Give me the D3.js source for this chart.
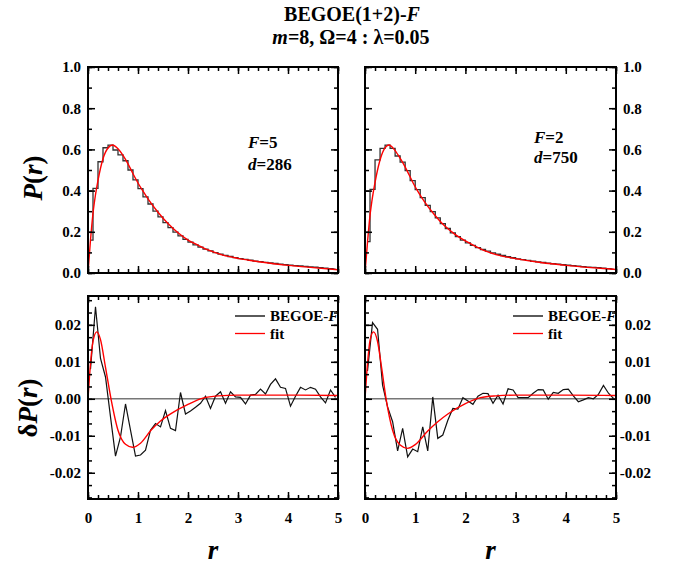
<!DOCTYPE html>
<html>
<head>
<meta charset="utf-8">
<script src="https://cdn.jsdelivr.net/npm/d3@7"></script>
<style>
  body { margin: 0; background: #fff; }
  text { font-family: "Liberation Serif", "Times New Roman", serif; font-weight: bold; }
  .tick text { font-size: 15px; font-family: "Liberation Serif", "Times New Roman", serif; }
</style>
</head>
<body>
<script>
// bin centres of the r histogram (width 0.1)
const rBins = [0.05,0.15,0.25,0.35,0.45,0.55,0.65,0.75,0.85,0.95,
               1.05,1.15,1.25,1.35,1.45,1.55,1.65,1.75,1.85,1.95,
               2.05,2.15,2.25,2.35,2.45,2.55,2.65,2.75,2.85,2.95,
               3.05,3.15,3.25,3.35,3.45,3.55,3.65,3.75,3.85,3.95,
               4.05,4.15,4.25,4.35,4.45,4.55,4.65,4.75,4.85,4.95];

// P(r) histograms, F=5 (left) and F=2 (right)
const histF5 = [0.160,0.411,0.540,0.608,0.621,0.597,0.573,0.545,0.500,0.452,
                0.410,0.370,0.335,0.300,0.272,0.245,0.220,0.198,0.180,0.163,
                0.150,0.137,0.126,0.116,0.107,0.099,0.092,0.086,0.080,0.075,
                0.070,0.066,0.062,0.058,0.055,0.052,0.049,0.046,0.043,0.041,
                0.038,0.036,0.034,0.032,0.030,0.028,0.026,0.023,0.021,0.019];
const histF2 = [0.152,0.406,0.549,0.605,0.621,0.605,0.568,0.538,0.497,0.448,
                0.405,0.366,0.328,0.298,0.268,0.240,0.216,0.195,0.177,0.160,
                0.146,0.134,0.123,0.114,0.106,0.098,0.091,0.085,0.079,0.074,
                0.069,0.065,0.061,0.057,0.054,0.051,0.048,0.045,0.043,0.040,
                0.038,0.036,0.033,0.031,0.029,0.027,0.026,0.024,0.021,0.019];

// red fit curves of P(r)
const fitRF5 = [0,0.05,0.1,0.15,0.2,0.3,0.4,0.49,0.6,0.7,0.8,0.9,1.0,1.1,1.2,1.4,1.6,1.8,2.0,2.2,2.4,2.7,3.0,3.5,4.0,4.5,5.0];
const fitPF5 = [0,0.16,0.29,0.38,0.45,0.555,0.607,0.621,0.603,0.571,0.53,0.482,0.437,0.397,0.360,0.295,0.240,0.195,0.160,0.135,0.112,0.087,0.071,0.052,0.037,0.026,0.016];
const fitRF2 = [0,0.05,0.1,0.15,0.2,0.29,0.38,0.48,0.58,0.68,0.78,0.88,0.98,1.08,1.18,1.38,1.58,1.78,1.98,2.18,2.38,2.65,3.0,3.5,4.0,4.5,5.0];
const fitPF2 = [0,0.15,0.28,0.37,0.44,0.54,0.60,0.621,0.60,0.565,0.524,0.476,0.427,0.385,0.348,0.284,0.230,0.190,0.158,0.132,0.109,0.087,0.070,0.051,0.037,0.026,0.017];

// deltaP(r) = BEGOE-F minus reference
const deltaF5 = [0.0080,0.0249,0.0109,0.0059,-0.0049,-0.0155,-0.0103,-0.0014,-0.0085,-0.0155,
                 -0.0152,-0.0139,-0.0085,-0.0067,-0.0076,-0.0032,-0.0080,-0.0086,0.0017,-0.0041,
                 -0.0033,-0.0023,-0.0012,0.0007,-0.0026,0.0007,0.0019,-0.0012,0.0019,0.0005,
                 0.0004,-0.0014,0.0010,0.0012,0.0026,0.0013,0.0039,0.0054,0.0031,0.0028,
                 -0.0020,0.0007,0.0031,0.0024,0.0031,0.0026,0.0005,-0.0011,0.0024,0.0004];
const deltaF2 = [0.0075,0.0206,0.0188,0.0037,-0.0022,-0.0062,-0.0141,-0.0080,-0.0157,-0.0136,
                 -0.0143,-0.0076,-0.0141,0.0005,-0.0107,-0.0098,-0.0058,-0.0026,-0.0028,0.0003,
                 -0.0006,-0.0015,0.0007,0.0015,0.0014,-0.0012,0.0010,-0.0014,0.0027,0.0024,
                 0.0003,0.0003,0.0003,0.0015,0.0025,0.0024,-0.0001,0.0017,0.0015,0.0025,
                 0.0026,0.0008,-0.0008,-0.0003,0.0003,0.0000,0.0012,0.0036,0.0015,0.0001];

// red fit of deltaP(r)
const dFitRF5 = [0,0.05,0.1,0.175,0.25,0.35,0.46,0.6,0.75,0.89,1.05,1.26,1.45,1.66,2.0,2.3,2.6,3.0,4.0,5.0];
const dFitF5  = [0,0.0095,0.0155,0.0181,0.016,0.0085,0,-0.0085,-0.0123,-0.0131,-0.012,-0.0085,-0.006,-0.004,-0.0015,0.0002,0.0008,0.001,0.001,0.0009];
const dFitRF2 = [0,0.05,0.1,0.17,0.25,0.33,0.42,0.55,0.7,0.85,1.0,1.25,1.45,1.65,2.0,2.3,2.6,3.0,4.0,5.0];
const dFitF2  = [0,0.0095,0.0158,0.0181,0.0155,0.0085,0,-0.0085,-0.0125,-0.0134,-0.0124,-0.0087,-0.0062,-0.0041,-0.0013,0.0003,0.0008,0.001,0.001,0.0009];

// tick values
const xTicks = [0,1,2,3,4,5];
const pTicks = [0,0.2,0.4,0.6,0.8,1.0];
const dTicks = [-0.02,-0.01,0,0.01,0.02];

const svg = d3.select("body").append("svg").attr("width", 678).attr("height", 568);

// title
const title = svg.append("text").attr("x", 352).attr("y", 21).attr("text-anchor", "middle").style("font-size", "20px");
title.append("tspan").text("BEGOE(1+2)-");
title.append("tspan").attr("font-style", "italic").text("F");
const sub = svg.append("text").attr("x", 351).attr("y", 44).attr("text-anchor", "middle").style("font-size", "20px");
sub.append("tspan").attr("font-style", "italic").text("m");
sub.append("tspan").text("=8, Ω=4 : λ=0.05");

const cols = [{x0: 88, x1: 338}, {x0: 365, x1: 616}];
const rows = [{y0: 67, y1: 273}, {y0: 296, y1: 499}];

const xMinor = d3.range(0, 5.001, 0.2);
const pMinor = d3.range(0, 1.001, 0.1);
const dMinor = d3.range(-8, 9).map(k => k * 0.01 / 3);

// draws the four inward tick sets; labels only where asked
function drawAxes(g, x, y, o) {
  const w = x.range()[1], h = y.range()[0];
  const add = (axis, tf, fmt) => {
    const a = g.append("g").attr("transform", tf).call(axis.tickFormat(fmt || ""));
    a.select(".domain").remove();
    a.attr("font-size", null).attr("font-family", null);
    a.selectAll("line").attr("stroke-width", 1.5);
    return a;
  };
  add(d3.axisBottom(x).tickValues(xMinor).tickSize(-4), `translate(0,${h})`);
  add(d3.axisTop(x).tickValues(xMinor).tickSize(-4), "translate(0,0)");
  add(d3.axisLeft(y).tickValues(o.yMinor).tickSize(-4), "translate(0,0)");
  add(d3.axisRight(y).tickValues(o.yMinor).tickSize(-4), `translate(${w},0)`);

  add(d3.axisBottom(x).tickValues(xTicks).tickSize(-7).tickPadding(13), `translate(0,${h})`,
      o.xLabels ? d3.format("d") : null);
  add(d3.axisTop(x).tickValues(xTicks).tickSize(-7), "translate(0,0)");
  add(d3.axisLeft(y).tickValues(o.yMajor).tickSize(-7).tickPadding(7), "translate(0,0)",
      o.ySide === "left" ? o.yFmt : null);
  const r = add(d3.axisRight(y).tickValues(o.yMajor).tickSize(-7).tickPadding(7), `translate(${w},0)`,
      o.ySide === "right" ? o.yFmt : null);
  if (o.ySide === "right" && o.alignEnd) r.selectAll("text").attr("text-anchor", "end").attr("x", 35);

  g.append("rect").attr("width", w).attr("height", h)
    .attr("fill", "none").attr("stroke", "#000").attr("stroke-width", 2);
}

function topPanel(c, hist, fitR, fitP, fLabel, dLabel, lab) {
  const g = svg.append("g").attr("transform", `translate(${c.x0},${rows[0].y0})`);
  const x = d3.scaleLinear().domain([0, 5]).range([0, c.x1 - c.x0]);
  const y = d3.scaleLinear().domain([0, 1]).range([rows[0].y1 - rows[0].y0, 0]);

  g.append("path").datum(rBins.map((r, i) => ({r, v: hist[i]})))
    .attr("fill", "none").attr("stroke", "#333").attr("stroke-width", 1.3)
    .attr("d", d3.line().x(d => x(d.r)).y(d => y(d.v)).curve(d3.curveStep));
  g.append("path").datum(fitR.map((r, i) => ({r, v: fitP[i]})))
    .attr("fill", "none").attr("stroke", "#f00").attr("stroke-width", 1.4)
    .attr("d", d3.line().x(d => x(d.r)).y(d => y(d.v)).curve(d3.curveMonotoneX));

  const t1 = g.append("text").attr("x", lab.x).attr("y", lab.y1).style("font-size", "17px");
  t1.append("tspan").attr("font-style", "italic").text("F");
  t1.append("tspan").text("=" + fLabel);
  const t2 = g.append("text").attr("x", lab.x).attr("y", lab.y2).style("font-size", "17px");
  t2.append("tspan").attr("font-style", "italic").text("d");
  t2.append("tspan").text("=" + dLabel);

  drawAxes(g, x, y, {yMajor: pTicks, yMinor: pMinor, yFmt: d => d.toFixed(1),
    ySide: c.x0 < 200 ? "left" : "right", xLabels: false});
}

function bottomPanel(c, delta, dR, dFit) {
  const g = svg.append("g").attr("transform", `translate(${c.x0},${rows[1].y0})`);
  const w = c.x1 - c.x0, h = rows[1].y1 - rows[1].y0;
  const x = d3.scaleLinear().domain([0, 5]).range([0, w]);
  const y = d3.scaleLinear().domain([-0.0271, 0.0278]).range([h, 0]);

  g.append("line").attr("x1", 0).attr("x2", w).attr("y1", y(0)).attr("y2", y(0))
    .attr("stroke", "#777").attr("stroke-width", 1.5);
  g.append("path").datum(rBins.map((r, i) => ({r, v: delta[i]})))
    .attr("fill", "none").attr("stroke", "#111").attr("stroke-width", 1.2)
    .attr("d", d3.line().x(d => x(d.r)).y(d => y(d.v)));
  g.append("path").datum(dR.map((r, i) => ({r, v: dFit[i]})))
    .attr("fill", "none").attr("stroke", "#f00").attr("stroke-width", 1.4)
    .attr("d", d3.line().x(d => x(d.r)).y(d => y(d.v)).curve(d3.curveMonotoneX));

  // legend
  const lg = g.append("g").attr("transform", `translate(${w - 103},20)`);
  [["#000", "BEGOE-", "F"], ["#f00", "fit", ""]].forEach((it, i) => {
    lg.append("line").attr("x1", 0).attr("x2", 30).attr("y1", i * 17.5).attr("y2", i * 17.5)
      .attr("stroke", it[0]).attr("stroke-width", 1.3);
    const t = lg.append("text").attr("x", 35).attr("y", i * 17.5 + 5).style("font-size", "15px");
    t.append("tspan").text(it[1]);
    if (it[2]) t.append("tspan").attr("font-style", "italic").text(it[2]);
  });

  drawAxes(g, x, y, {yMajor: dTicks, yMinor: dMinor, yFmt: d => d.toFixed(2),
    ySide: c.x0 < 200 ? "left" : "right", alignEnd: true, xLabels: true});

  g.append("text").attr("x", w / 2).attr("y", h + 60).attr("text-anchor", "middle")
    .style("font-size", "27px").attr("font-style", "italic").text("r");
}

topPanel(cols[0], histF5, fitRF5, fitPF5, "5", "286", {x: 160, y1: 81, y2: 103});
topPanel(cols[1], histF2, fitRF2, fitPF2, "2", "750", {x: 169, y1: 76, y2: 96});
bottomPanel(cols[0], deltaF5, dFitRF5, dFitF5);
bottomPanel(cols[1], deltaF2, dFitRF2, dFitF2);

// y axis titles
const yt1 = svg.append("text").attr("transform", "translate(42,178) rotate(-90)")
  .attr("text-anchor", "middle").style("font-size", "27px");
yt1.append("tspan").attr("font-style", "italic").text("P");
yt1.append("tspan").text("(");
yt1.append("tspan").attr("font-style", "italic").text("r");
yt1.append("tspan").text(")");

const yt2 = svg.append("text").attr("transform", "translate(37,408) rotate(-90)")
  .attr("text-anchor", "middle").style("font-size", "27px");
yt2.append("tspan").text("δ");
yt2.append("tspan").attr("font-style", "italic").text("P");
yt2.append("tspan").text("(");
yt2.append("tspan").attr("font-style", "italic").text("r");
yt2.append("tspan").text(")");
</script>
</body>
</html>
